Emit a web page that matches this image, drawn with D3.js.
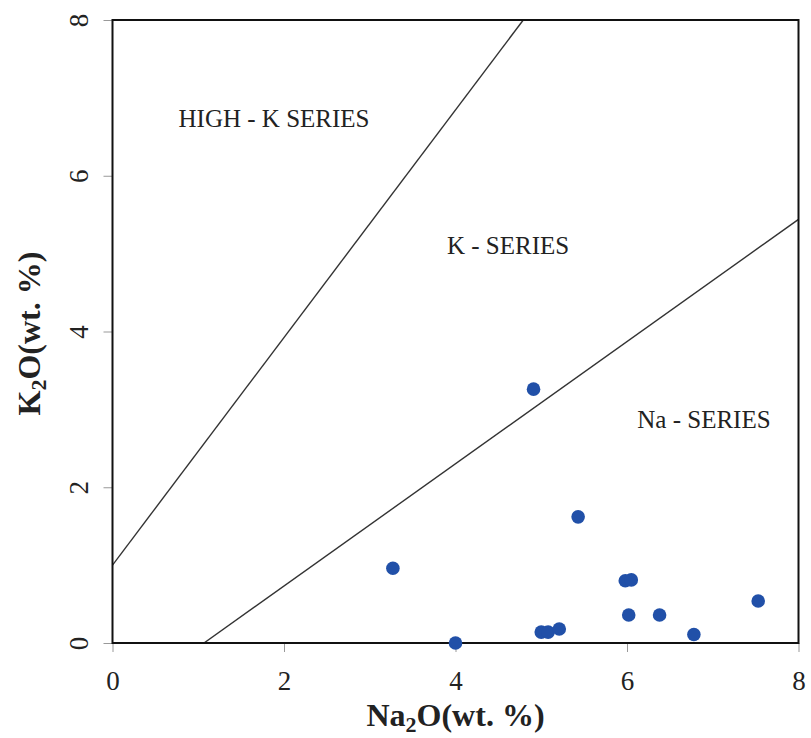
<!DOCTYPE html>
<html>
<head>
<meta charset="utf-8">
<script src="https://cdn.jsdelivr.net/npm/d3@7"></script>
<style>
  body { margin: 0; background: #fff; }
  svg text { font-family: 'Liberation Serif', 'Times New Roman', serif; fill: #222; }
</style>
</head>
<body>
<div class="graph"></div>
<script>
// sample values
const na2o = [4.91, 5.43, 3.27, 4.00, 5.00, 5.08, 5.21, 5.98, 6.05, 6.02, 6.38, 6.78, 7.53];
const k2o = [3.26, 1.62, 0.96, 0.00, 0.14, 0.14, 0.18, 0.80, 0.81, 0.36, 0.36, 0.11, 0.54];

// boundary lines (Na2O, K2O end points)
const highKLine = [[0, 1], [4.79, 8]];
const naLine = [[1.067, 0], [8, 5.44]];

const xTicks = [0, 2, 4, 6, 8];
const yTicks = [0, 2, 4, 6, 8];

const fieldNames = ['HIGH - K SERIES', 'K - SERIES', 'Na - SERIES'];
const fieldNa = [0.77, 3.90, 6.12];
const fieldK = [6.62, 4.99, 2.76];

function drawChart() {
  const w = 811;
  const h = 738;
  const plot = { left: 112.5, right: 798.5, top: 20, bottom: 643 };

  const xScale = d3.scaleLinear().domain([0, 8]).range([plot.left, plot.right]);
  const yScale = d3.scaleLinear().domain([0, 8]).range([plot.bottom, plot.top]);

  const svg = d3.select('.graph')
    .append('svg')
    .attr('width', w)
    .attr('height', h);

  svg.append('defs').append('clipPath')
    .attr('id', 'plot-clip')
    .append('rect')
    .attr('x', plot.left)
    .attr('y', plot.top)
    .attr('width', plot.right - plot.left)
    .attr('height', plot.bottom - plot.top);

  const xAxis = svg.append('g')
    .attr('transform', `translate(0, ${plot.bottom})`)
    .call(d3.axisBottom(xScale).tickValues(xTicks).tickSize(9).tickPadding(20).tickFormat(d3.format('d')));
  xAxis.select('.domain').remove();
  xAxis.selectAll('line').attr('stroke', '#999');
  xAxis.selectAll('text')
    .attr('dy', null)
    .attr('y', 47)
    .style('font-size', '27px');

  const yAxis = svg.append('g')
    .attr('transform', `translate(${plot.left}, 0)`)
    .call(d3.axisLeft(yScale).tickValues(yTicks).tickSize(9).tickFormat(d3.format('d')));
  yAxis.select('.domain').remove();
  yAxis.selectAll('line').attr('stroke', '#999');
  yAxis.selectAll('text')
    .attr('transform', 'rotate(-90)')
    .attr('x', 0)
    .attr('y', -24.5)
    .attr('dy', null)
    .attr('text-anchor', 'middle')
    .style('font-size', '27px');

  const line = d3.line()
    .x((d) => xScale(d[0]))
    .y((d) => yScale(d[1]));

  svg.selectAll('path.boundary')
    .data([highKLine, naLine])
    .enter()
    .append('path')
    .attr('class', 'boundary')
    .attr('d', line)
    .attr('fill', 'none')
    .attr('stroke', '#333')
    .attr('stroke-width', 1.4)
    .attr('clip-path', 'url(#plot-clip)');

  svg.append('rect')
    .attr('x', plot.left)
    .attr('y', plot.top)
    .attr('width', plot.right - plot.left)
    .attr('height', plot.bottom - plot.top)
    .attr('fill', 'none')
    .attr('stroke', '#111')
    .attr('stroke-width', 2);

  svg.selectAll('text.field')
    .data(fieldNames)
    .enter()
    .append('text')
    .attr('class', 'field')
    .attr('x', (d, i) => xScale(fieldNa[i]))
    .attr('y', (d, i) => yScale(fieldK[i]))
    .style('font-size', '25px')
    .text((d) => d);

  svg.selectAll('circle')
    .data(na2o)
    .enter()
    .append('circle')
    .attr('cx', (d) => xScale(d))
    .attr('cy', (d, i) => yScale(k2o[i]))
    .attr('r', 6.8)
    .attr('fill', '#2150a8');

  // axis titles with subscripts
  const xTitle = svg.append('text')
    .attr('x', (plot.left + plot.right) / 2)
    .attr('y', 726)
    .attr('text-anchor', 'middle')
    .style('font-size', '32px')
    .style('font-weight', 'bold');
  xTitle.append('tspan').text('Na');
  xTitle.append('tspan').attr('dy', 6).style('font-size', '22px').text('2');
  xTitle.append('tspan').attr('dy', -6).text('O(wt. %)');

  const yTitle = svg.append('text')
    .attr('transform', `translate(40, ${(plot.top + plot.bottom) / 2 + 2}) rotate(-90)`)
    .attr('text-anchor', 'middle')
    .style('font-size', '32px')
    .style('font-weight', 'bold');
  yTitle.append('tspan').text('K');
  yTitle.append('tspan').attr('dy', 6).style('font-size', '22px').text('2');
  yTitle.append('tspan').attr('dy', -6).text('O(wt. %)');
}

drawChart();
</script>
</body>
</html>
